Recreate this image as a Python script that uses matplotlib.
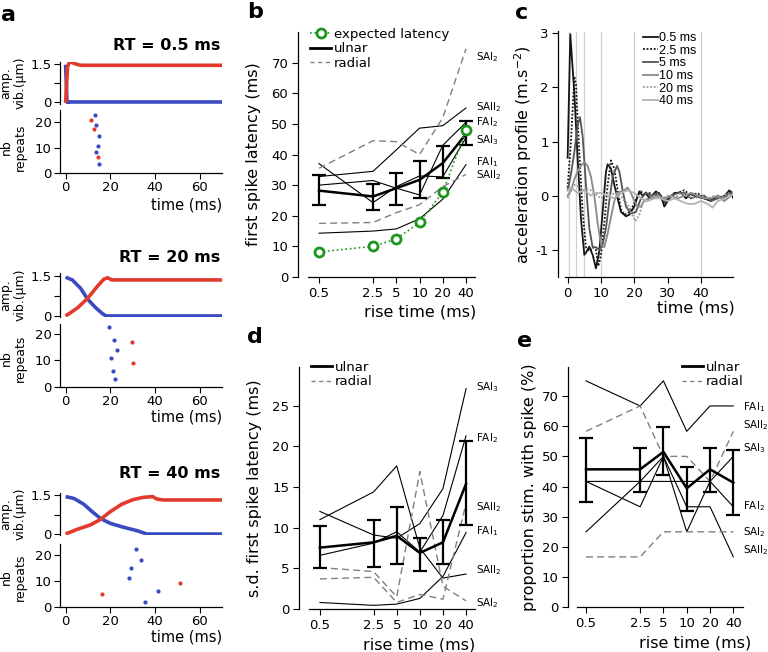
import matplotlib
matplotlib.use('Agg')
import matplotlib.pyplot as plt
from matplotlib.lines import Line2D
from matplotlib.ticker import NullLocator
import matplotlib.transforms as mtrans
import numpy as np

plt.rcParams['font.family'] = 'DejaVu Sans'
plt.rcParams['axes.unicode_minus'] = False
plt.rcParams['axes.linewidth'] = 0.9
plt.rcParams['xtick.major.size'] = 4
plt.rcParams['ytick.major.size'] = 4

W, H = 768, 652
RED = '#e23b2e'
BLUE = '#3a4bc0'
GREEN = '#1e961e'

# ---------------- data ----------------
rise = [0.5, 2.5, 5, 10, 20, 40]
rise_lbl = ['0.5', '2.5', '5', '10', '20', '40']

# panel a: vibration amplitude traces (time ms, amplitude um)
a0_red_t = [0, 0.9, 1.9, 3.4, 5.7, 7.1, 70]
a0_red_v = [-0.04, 1.41, 1.6, 1.54, 1.47, 1.45, 1.45]
a0_blue_t = [0, 0.6, 0.9, 1.9, 70]
a0_blue_v = [1.47, 0.09, -0.04, 0, 0]
a1_red_t = [0, 5.2, 9.9, 14.1, 17.0, 18.8, 20.7, 23, 70]
a1_red_v = [0, 0.29, 0.66, 1.09, 1.36, 1.42, 1.34, 1.34, 1.34]
a1_blue_t = [0, 3, 6.7, 9.9, 13.3, 16.3, 18.1, 70]
a1_blue_v = [1.44, 1.34, 1.03, 0.62, 0.32, 0.1, 0, 0]
a2_red_t = [0, 5.2, 11.1, 15.6, 20, 25.2, 30.4, 34.8, 39, 40.7, 43.7, 70]
a2_red_v = [0, 0.18, 0.35, 0.56, 0.86, 1.15, 1.33, 1.41, 1.44, 1.35, 1.31, 1.31]
a2_blue_t = [0, 3.7, 8.1, 11.9, 15.6, 20, 25.9, 31.9, 36.3, 70]
a2_blue_v = [1.44, 1.37, 1.15, 0.86, 0.6, 0.41, 0.26, 0.13, 0, 0]

# panel a: spike rasters (time ms, repeat nb)
r0_blue_t = [13.3, 13.7, 15.0, 14.3, 13.7, 14.8]
r0_blue_n = [22.8, 19.1, 14.5, 10.8, 8.2, 3.6]
r0_red_t = [11.5, 12.7, 14.3]
r0_red_n = [21.1, 17.4, 6.3]
r1_blue_t = [19.6, 21.8, 22.8, 20.3, 21.3, 21.9]
r1_blue_n = [22.8, 17.7, 13.9, 11.0, 5.9, 2.9]
r1_red_t = [29.9, 30.2]
r1_red_n = [16.8, 8.9]
r2_blue_t = [31.7, 33.6, 29.3, 28.6, 41.2, 35.4]
r2_blue_n = [22.2, 18.1, 15.1, 11.0, 5.9, 1.9]
r2_red_t = [16.3, 51.1]
r2_red_n = [4.9, 9.0]

rt_titles = ['RT = 0.5 ms', 'RT = 20 ms', 'RT = 40 ms']

# panel b: first spike latency (ms)
b_expected = [8.2, 10.0, 12.4, 17.8, 27.7, 47.9]
b_mean = [28.2, 26.3, 29.0, 31.7, 37.2, 46.7]
b_hi = [33.4, 30.4, 33.9, 38.0, 42.9, 51.0]
b_lo = [23.6, 21.9, 23.6, 25.7, 32.3, 43.0]
b_ulnar = [
    [30.0, 31.5, 29.0, 26.8, 43.0, 50.5],   # FAI2
    [37.0, 24.3, 29.5, 33.0, 32.7, 45.5],   # SAI3
    [32.8, 34.5, 41.5, 48.6, 49.4, 55.2],   # SAII2
    [14.3, 15.0, 15.7, 19.0, 25.4, 36.7],   # FAI1
]
b_radial = [
    [35.5, 44.5, 44.2, 40.0, 52.0, 74.5],   # SAI2
    [17.5, 17.8, 21.0, 23.6, 29.5, 33.5],   # SAII2
]
b_lab = ['SAI$_2$', 'SAII$_2$', 'FAI$_2$', 'SAI$_3$', 'FAI$_1$', 'SAII$_2$']
b_lab_y = [71.8, 55.5, 50.6, 44.7, 37.5, 33.3]

# panel c: acceleration profiles (time ms, m.s-2)
c_labels = ['0.5 ms', '2.5 ms', '5 ms', '10 ms', '20 ms', '40 ms']
c_t05 = [0, 0.8, 2, 3, 4, 5, 5.5, 6.5, 7.5, 8.5, 9.5, 10.5, 11.5, 12, 13, 14, 15, 16, 17.5,
         18.5, 20, 21.5, 22.5, 23.5, 24.5, 26.5, 28, 29, 30.5, 32, 34, 35.5, 37, 39, 41, 43,
         45, 46.5, 48.5, 50]
c_a05 = [0.7, 2.98, 1.9, 0.7, -0.42, -1.09, -1.05, -0.94, -1.09, -1.34, -1.03, -0.3, 0.44,
         0.58, 0.5, 0.2, -0.05, -0.3, -0.38, -0.35, -0.2, 0.08, 0.0, 0.06, -0.05, 0.08, 0.0,
         -0.2, -0.05, 0.05, 0.06, -0.05, 0.05, -0.02, -0.05, -0.1, 0.0, -0.05, 0.1, -0.08]
c_t25 = [0, 1, 2, 2.5, 3.5, 4.5, 5.5, 6.5, 7.5, 8.5, 9.2, 10, 11, 12, 13, 14, 15, 16, 17,
         18.5, 19.5, 21, 22, 23, 24.5, 26, 27.5, 29, 31, 33, 35, 37, 39, 41, 43, 45, 47, 49, 50]
c_a25 = [0.15, 1.0, 2.2, 2.05, 0.8, -0.3, -0.95, -1.02, -0.95, -1.0, -1.3, -1.1, -0.5, 0.2,
         0.65, 0.5, 0.1, -0.25, -0.35, -0.3, -0.2, 0.0, 0.08, 0.0, 0.05, 0.0, 0.05, -0.15,
         0.0, 0.05, 0.1, 0.0, 0.05, -0.05, -0.08, 0.0, -0.05, 0.08, 0.0]
c_t5 = [0, 1, 2, 3, 3.7, 4.5, 5.5, 6.5, 7.5, 8.5, 9.5, 10.5, 11.5, 12.5, 13.5, 14.8, 15.5,
        16.5, 17.5, 19, 20.5, 22, 23.5, 25, 27, 29, 31, 33, 35, 37, 39, 41, 43, 45, 47, 49, 50]
c_a5 = [0.1, 0.4, 0.8, 1.3, 1.45, 1.1, 0.2, -0.6, -0.95, -0.95, -1.0, -0.9, -0.6, -0.1,
        0.35, 0.55, 0.45, 0.1, -0.2, -0.33, -0.3, -0.05, 0.05, 0.0, 0.05, -0.1, 0.0, 0.05,
        0.05, -0.05, 0.0, 0.0, -0.1, -0.05, 0.0, 0.05, 0.0]
c_t10 = [0, 1, 2, 3, 4, 5, 6, 7, 8, 9, 10, 11, 12, 13, 14, 15, 16, 17, 18, 19, 20, 21, 22,
         23, 25, 27, 29, 31, 33, 35, 37, 39, 41, 43, 45, 47, 49, 50]
c_a10 = [0.0, 0.1, 0.3, 0.45, 0.55, 0.62, 0.55, 0.35, 0.0, -0.5, -0.9, -0.95, -0.7, -0.4,
         -0.1, 0.05, 0.08, 0.1, 0.15, 0.05, -0.1, -0.2, -0.2, -0.08, -0.05, 0.0, -0.05, 0.0,
         -0.05, 0.0, 0.05, 0.0, -0.05, -0.05, 0.0, -0.1, 0.0, 0.05]
c_t20 = [0, 1, 2, 3, 4, 5, 6, 7, 8, 9, 10, 11, 12, 13, 14, 15, 16, 17, 18, 19, 20.3, 21.5,
         22.5, 24, 26, 28, 30, 32, 34, 36, 38, 40, 42, 44, 46, 48, 50]
c_a20 = [-0.05, 0.1, 0.2, 0.18, 0.15, 0.1, 0.12, 0.1, 0.05, 0.0, -0.05, 0.0, 0.05, 0.0,
         0.05, 0.05, 0.0, -0.1, -0.15, -0.3, -0.47, -0.35, -0.15, -0.05, 0.0, -0.05, 0.0,
         -0.05, 0.05, 0.0, -0.05, 0.0, -0.05, 0.0, -0.05, 0.05, 0.0]
c_t40 = [0, 1, 2, 3, 4, 5, 6, 7, 8, 10, 12, 14, 16, 18, 20, 22, 24, 26, 28, 30, 32, 34, 36,
         38, 40, 42, 43.5, 45, 47, 49, 50]
c_a40 = [0.1, 0.15, 0.1, 0.05, 0.08, 0.1, 0.05, 0.0, 0.05, 0.05, 0.0, -0.05, 0.05, 0.1,
         0.05, -0.05, -0.1, -0.05, -0.05, -0.1, -0.05, -0.1, -0.15, -0.15, -0.1, -0.15,
         -0.22, -0.1, -0.05, 0.0, 0.05]

# panel d: s.d. first spike latency (ms)
d_mean = [7.55, 8.2, 9.0, 6.9, 8.2, 15.4]
d_hi = [10.2, 11.0, 12.5, 8.7, 10.9, 20.7]
d_lo = [5.1, 5.2, 5.5, 4.7, 5.5, 10.3]
d_ulnar = [
    [12.0, 9.1, 8.7, 10.5, 14.8, 27.1],    # SAI3
    [6.6, 8.1, 9.5, 7.0, 11.5, 21.3],      # FAI2
    [11.0, 14.4, 17.6, 7.5, 3.8, 4.3],     # SAII2
    [0.8, 0.45, 0.6, 1.3, 4.0, 9.4],       # FAI1
]
d_radial = [
    [5.1, 4.6, 1.5, 16.9, 2.8, 1.0],       # SAI2
    [3.7, 3.9, 0.8, 1.8, 1.2, 13.0],       # SAII2
]
d_lab = ['SAI$_3$', 'FAI$_2$', 'SAII$_2$', 'FAI$_1$', 'SAII$_2$', 'SAI$_2$']
d_lab_y = [27.3, 21.0, 12.5, 9.6, 4.8, 0.7]

# panel e: proportion of stimuli with spike (%)
e_mean = [45.7, 45.7, 51.5, 39.4, 45.7, 41.3]
e_hi = [56.0, 52.9, 59.8, 46.4, 52.9, 52.1]
e_lo = [35.0, 38.3, 43.8, 32.0, 38.3, 30.6]
e_ulnar = [
    [75.0, 66.7, 75.0, 58.3, 66.7, 66.7],  # FAI1
    [41.7, 41.7, 41.7, 41.7, 41.7, 33.3],  # FAI2
    [41.7, 33.3, 50.0, 25.0, 41.7, 50.0],  # SAI3
    [25.0, 41.7, 50.0, 33.3, 33.3, 16.7],  # SAII2
]
e_radial = [
    [58.3, 66.7, 50.0, 50.0, 41.7, 58.3],  # SAII2
    [16.7, 16.7, 25.0, 25.0, 25.0, 25.0],  # SAI2
]
e_lab = ['FAI$_1$', 'SAII$_2$', 'SAI$_3$', 'FAI$_2$', 'SAI$_2$', 'SAII$_2$']
e_lab_y = [66.2, 60.4, 52.9, 33.6, 25.0, 19.0]

# ---------------- figure ----------------
fig = plt.figure(figsize=(W / 100, H / 100), dpi=100)


def add_px(l, t, r, b):
    return fig.add_axes([l / W, 1 - b / H, (r - l) / W, (b - t) / H])


def clean(ax):
    ax.spines['top'].set_visible(False)
    ax.spines['right'].set_visible(False)


# ---- panel a ----
rows = [
    dict(amp=(61.5, 104, 1.6, -0.08), ras=(110.4, 173, 24.7), title_y=45,
         amp_lab_y=83, ras_lab_y=147, time_y=205,
         red=(a0_red_t, a0_red_v), blue=(a0_blue_t, a0_blue_v),
         rred=(r0_red_t, r0_red_n), rblue=(r0_blue_t, r0_blue_n)),
    dict(amp=(273.2, 317.3, 1.59, -0.05), ras=(324, 386.7, 23.8), title_y=257,
         amp_lab_y=295, ras_lab_y=358, time_y=417,
         red=(a1_red_t, a1_red_v), blue=(a1_blue_t, a1_blue_v),
         rred=(r1_red_t, r1_red_n), rblue=(r1_blue_t, r1_blue_n)),
    dict(amp=(492.7, 535.3, 1.59, -0.05), ras=(544, 606.7, 24.3), title_y=473,
         amp_lab_y=514, ras_lab_y=577, time_y=637,
         red=(a2_red_t, a2_red_v), blue=(a2_blue_t, a2_blue_v),
         rred=(r2_red_t, r2_red_n), rblue=(r2_blue_t, r2_blue_n)),
]
for k, row in enumerate(rows):
    t0, b0, ytop, ybot = row['amp']
    ax = add_px(60, t0, 222, b0)
    ax.plot(*row['blue'], color=BLUE, lw=2.6, solid_capstyle='butt')
    ax.plot(*row['red'], color=RED, lw=2.6, solid_capstyle='butt')
    ax.set_xlim(-2.5, 70)
    ax.set_ylim(ybot, ytop)
    for s in ['top', 'right', 'bottom']:
        ax.spines[s].set_visible(False)
    ax.set_xticks([])
    ax.set_yticks([0, 0.75, 1.5])
    ax.set_yticklabels(['0', '', '1.5'], fontsize=9.5)
    ax.tick_params(axis='y', pad=2)
    fig.text(220 / W, 1 - row['title_y'] / H, rt_titles[k], ha='right', va='center',
             fontsize=11.5, fontweight='bold')
    fig.text(13 / W, 1 - row['amp_lab_y'] / H, 'amp.\nvib.(\u03bcm)', rotation=90,
             ha='center', va='center', fontsize=9, linespacing=1.1)

    t1, b1, rtop = row['ras']
    axr = add_px(60, t1, 222, b1)
    axr.scatter(*row['rblue'], s=9, color=BLUE, linewidths=0)
    axr.scatter(*row['rred'], s=9, color=RED, linewidths=0)
    axr.set_xlim(-2.5, 70)
    axr.set_ylim(0, rtop)
    clean(axr)
    axr.set_xticks([0, 20, 40, 60])
    axr.set_yticks([0, 10, 20])
    axr.tick_params(labelsize=9.5, pad=2)
    fig.text(13 / W, 1 - row['ras_lab_y'] / H, 'nb\nrepeats', rotation=90,
             ha='center', va='center', fontsize=9, linespacing=1.1)
    fig.text(222 / W, 1 - row['time_y'] / H, 'time (ms)', ha='right', va='center',
             fontsize=10.5)


# ---- helper for rise-time panels ----
def rise_axes(l, t, r, b, ymax, xl, xr, xs0):
    ax = add_px(l, t, r, b)
    ax.set_xscale('log')
    ax.set_xlim(xl, xr)
    ax.set_ylim(0, ymax)
    clean(ax)
    ax.spines['bottom'].set_bounds(xs0, xr)
    ax.set_xticks(rise)
    ax.set_xticklabels(rise_lbl)
    ax.xaxis.set_minor_locator(NullLocator())
    ax.tick_params(labelsize=9.5, pad=3)
    return ax


def draw_units(ax, ulnar, radial, mean, lo, hi):
    for ys in ulnar:
        ax.plot(rise, ys, color='black', lw=0.8)
    for ys in radial:
        ax.plot(rise, ys, color='#808080', lw=1.0, dashes=(5, 3))
    yerr = [np.array(mean) - np.array(lo), np.array(hi) - np.array(mean)]
    ax.errorbar(rise, mean, yerr=yerr, color='black', lw=1.8, elinewidth=1.6,
                capsize=5, capthick=1.6, zorder=4)


def side_labels(ax, labels, ys, dx=1.008):
    tr = mtrans.blended_transform_factory(ax.transAxes, ax.transData)
    for s, y in zip(labels, ys):
        ax.text(dx, y, s, transform=tr, fontsize=7.5, ha='left', va='center')


ulnar_h = Line2D([], [], color='black', lw=2)
radial_h = Line2D([], [], color='#808080', lw=1.0, dashes=(3, 2.5))

# ---- panel b ----
axb = rise_axes(298, 32, 475, 277, 80, 0.267, 52.3, 0.36)
draw_units(axb, b_ulnar, b_radial, b_mean, b_lo, b_hi)
exp_line, = axb.plot(rise, b_expected, color=GREEN, ls=':', lw=1.2, marker='o',
                     markersize=6.5, markerfacecolor='white', markeredgecolor=GREEN,
                     markeredgewidth=2, zorder=5)
axb.set_yticks(range(0, 80, 10))
axb.set_ylabel('first spike latency (ms)', fontsize=11.5, va='center')
axb.yaxis.set_label_coords(-0.254, 0.5)
axb.set_xlabel('rise time (ms)', fontsize=11.5, va='center')
axb.xaxis.set_label_coords(0.689, -0.143)
side_labels(axb, b_lab, b_lab_y)
axb.legend([exp_line, ulnar_h, radial_h], ['expected latency', 'ulnar', 'radial'],
           loc='upper left', bbox_to_anchor=(310 / W, 1 - 28 / H),
           bbox_transform=fig.transFigure, frameon=False, fontsize=9.5,
           borderpad=0, borderaxespad=0, handlelength=1.6, handletextpad=0.2,
           labelspacing=0.1)

# ---- panel c ----
axc = add_px(558.3, 31.5, 733.3, 277)
for v in rise:
    axc.axvline(v, color='#d0d0d0', lw=0.9, zorder=0)
c_series = [(c_t05, c_a05), (c_t25, c_a25), (c_t5, c_a5), (c_t10, c_a10),
            (c_t20, c_a20), (c_t40, c_a40)]
c_colors = ['#151515', '#151515', '#555555', '#8a8a8a', '#9a9a9a', '#b3b3b3']
c_styles = ['-', (0, (1, 1)), '-', '-', (0, (1, 1)), '-']
c_handles = []
for (tt, aa), col, st, lab in zip(c_series, c_colors, c_styles, c_labels):
    h, = axc.plot(tt, aa, color=col, ls=st, lw=1.3, label=lab)
    c_handles.append(h)
axc.set_xlim(-2.8, 49.7)
axc.set_ylim(-1.5, 3.03)
clean(axc)
axc.spines['bottom'].set_bounds(-0.8, 49.7)
axc.set_xticks([0, 10, 20, 30, 40])
axc.set_yticks([-1, 0, 1, 2, 3])
axc.tick_params(labelsize=9.5, pad=3)
axc.set_ylabel('acceleration profile (m.s$^{-2}$)', fontsize=11.5, va='center')
axc.yaxis.set_label_coords(-0.2, 0.5)
axc.set_xlabel('time (ms)', fontsize=11.5, va='center')
axc.xaxis.set_label_coords(0.787, -0.126)
axc.legend(c_handles, c_labels, loc='upper left', bbox_to_anchor=(643 / W, 1 - 32 / H),
           bbox_transform=fig.transFigure, frameon=False,
           prop={'family': 'Liberation Sans', 'size': 9}, borderpad=0,
           borderaxespad=0, handlelength=1.2, handletextpad=0.1, labelspacing=0.05)

# ---- panel d ----
axd = rise_axes(299, 366.7, 475, 609, 29.8, 0.267, 52.3, 0.36)
draw_units(axd, d_ulnar, d_radial, d_mean, d_lo, d_hi)
axd.set_yticks([0, 5, 10, 15, 20, 25])
axd.set_ylabel('s.d. first spike latency (ms)', fontsize=11.5, va='center')
axd.yaxis.set_label_coords(-0.25, 0.5)
axd.set_xlabel('rise time (ms)', fontsize=11.5, va='center')
axd.xaxis.set_label_coords(0.682, -0.149)
side_labels(axd, d_lab, d_lab_y)
axd.legend([ulnar_h, radial_h], ['ulnar', 'radial'], loc='upper left',
           bbox_to_anchor=(311 / W, 1 - 361 / H), bbox_transform=fig.transFigure,
           frameon=False, fontsize=9.5, borderpad=0, borderaxespad=0,
           handlelength=1.6, handletextpad=0.2, labelspacing=0.1)

# ---- panel e ----
axe = rise_axes(568.3, 366.7, 743.3, 607.3, 79.7, 0.295, 53.8, 0.386)
draw_units(axe, e_ulnar, e_radial, e_mean, e_lo, e_hi)
axe.set_yticks(range(0, 80, 10))
axe.set_ylabel('proportion stim. with spike (%)', fontsize=11.5, va='center')
axe.yaxis.set_label_coords(-0.219, 0.5)
axe.set_xlabel('rise time (ms)', fontsize=11.5, va='center')
axe.xaxis.set_label_coords(0.724, -0.148)
side_labels(axe, e_lab, e_lab_y, dx=1.0)
axe.legend([ulnar_h, radial_h], ['ulnar', 'radial'], loc='upper left',
           bbox_to_anchor=(682 / W, 1 - 361 / H), bbox_transform=fig.transFigure,
           frameon=False, fontsize=9.5, borderpad=0, borderaxespad=0,
           handlelength=1.6, handletextpad=0.2, labelspacing=0.1)

# ---- panel letters ----
for s, x, y in [('a', 1, 15), ('b', 247, 12), ('c', 515, 13), ('d', 247, 337),
                ('e', 517, 341)]:
    fig.text(x / W, 1 - y / H, s, fontsize=16, fontweight='bold', ha='left', va='center')

fig.savefig('out.png', dpi=100)
